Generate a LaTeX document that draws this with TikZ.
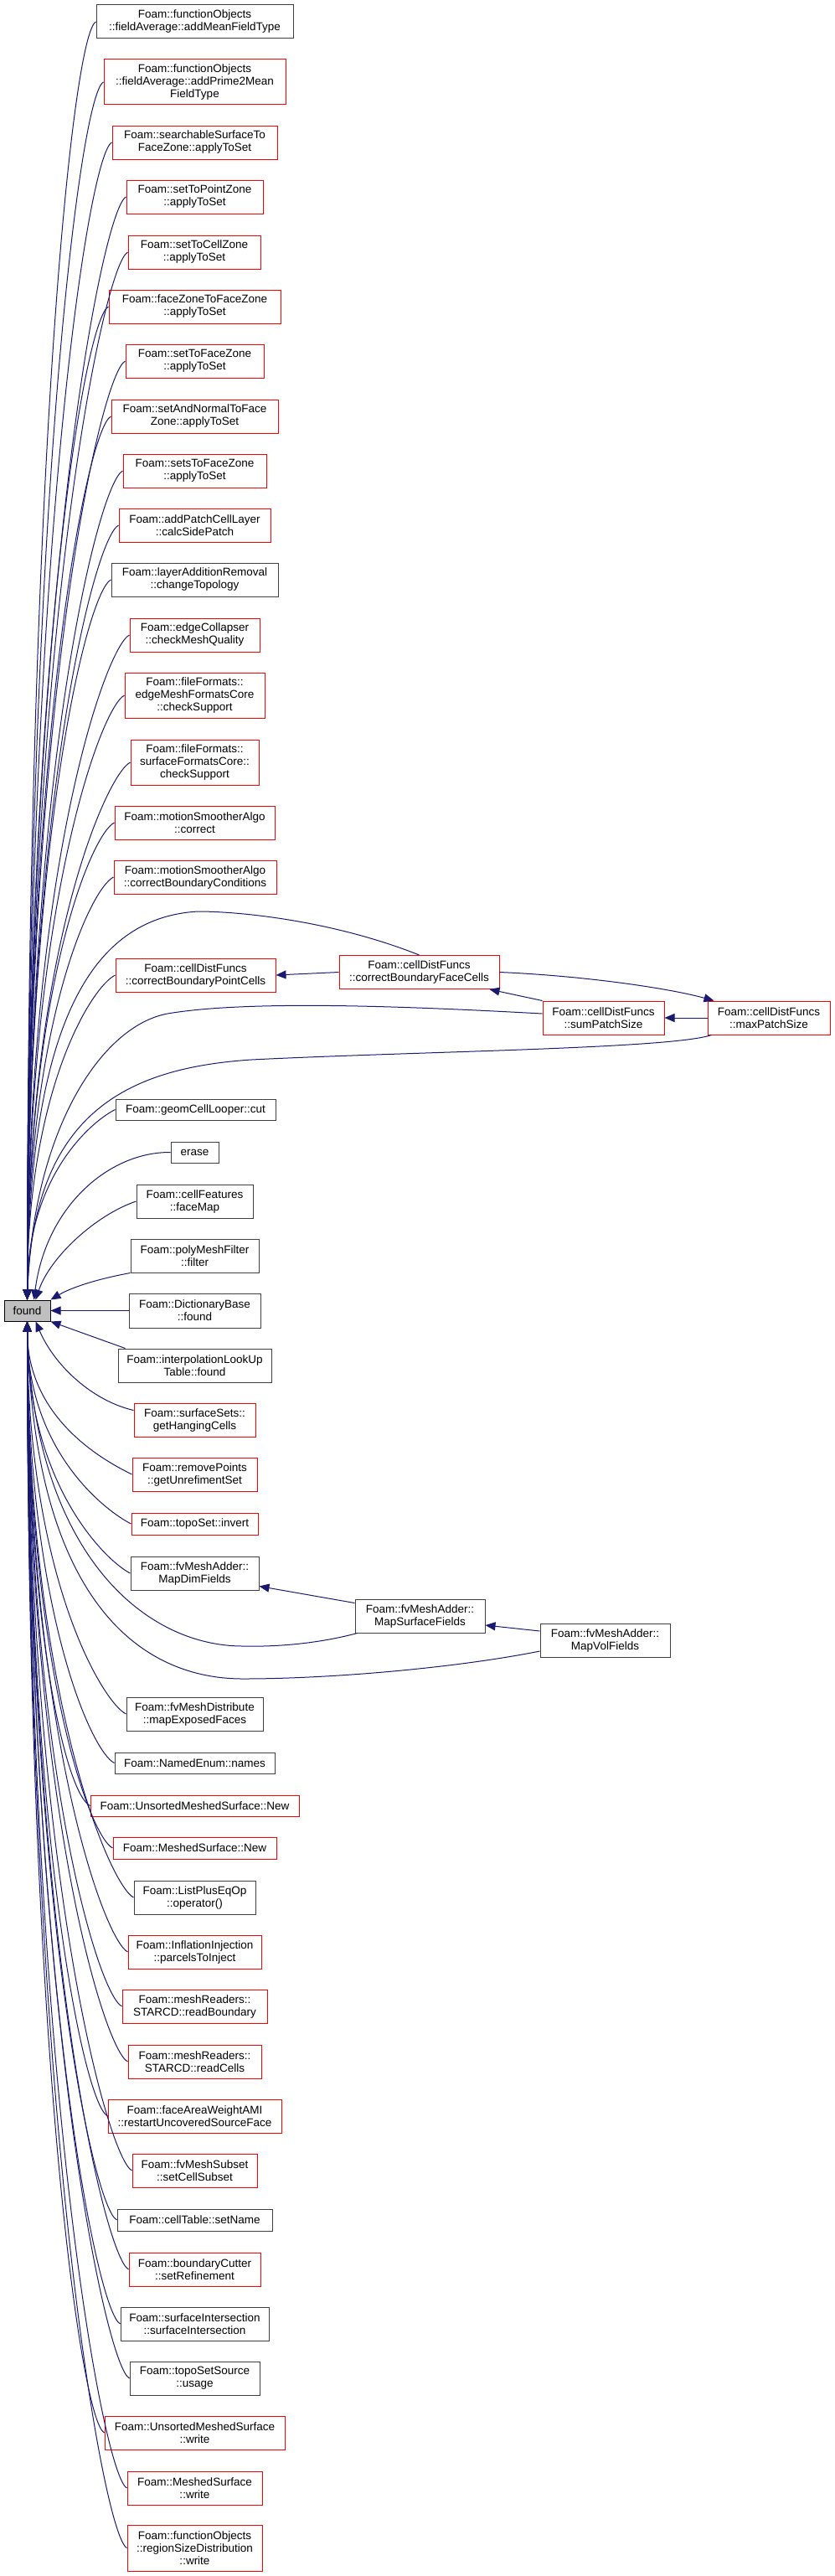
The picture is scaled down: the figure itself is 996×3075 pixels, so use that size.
\documentclass[tikz,border=0pt]{standalone}
\usepackage{fontspec}
\setmainfont{Liberation Sans}
\usetikzlibrary{arrows.meta}

\definecolor{edgeblue}{HTML}{191970}
\definecolor{boxred}{HTML}{FF0000}
\definecolor{boxgray}{HTML}{404040}
\definecolor{foundgray}{HTML}{BFBFBF}

\begin{document}
\begin{tikzpicture}[
    x=1pt, y=1pt,
    func/.style={
        draw=boxgray, fill=white, line width=1pt, inner sep=0pt,
        align=center, minimum height=40pt,
        font=\fontsize{13.5}{15}\selectfont
    },
    funcred/.style={func, draw=boxred},
    current/.style={func, draw=black, fill=foundgray},
    caller/.style={draw=edgeblue, line width=1pt, -{Triangle[length=12pt, width=10pt]}}
]

\useasboundingbox (0,0) rectangle (996,-3075);

% The called function
\node[current, minimum width=55pt, minimum height=25pt] (found) at (32.5,-1564.5) {found};

% Callers above - left column
\node[func, minimum width=235pt] (mean) at (232.5,-26) {Foam::functionObjects\\::fieldAverage::addMeanFieldType};
\node[funcred, minimum width=217pt, minimum height=54pt] (prime) at (232.5,-98) {Foam::functionObjects\\::fieldAverage::addPrime2Mean\\FieldType};
\node[funcred, minimum width=197pt] (searchable) at (232.5,-170) {Foam::searchableSurfaceTo\\FaceZone::applyToSet};
\node[funcred, minimum width=163pt] (pointzone) at (232.5,-235) {Foam::setToPointZone\\::applyToSet};
\node[funcred, minimum width=158pt] (cellzone) at (232,-301) {Foam::setToCellZone\\::applyToSet};
\node[funcred, minimum width=205pt] (facezone) at (232.5,-366) {Foam::faceZoneToFaceZone\\::applyToSet};
\node[funcred, minimum width=165pt] (setfacezone) at (232.5,-431) {Foam::setToFaceZone\\::applyToSet};
\node[funcred, minimum width=199pt] (normal) at (232.5,-497) {Foam::setAndNormalToFace\\Zone::applyToSet};
\node[funcred, minimum width=171pt] (setsface) at (232.5,-562) {Foam::setsToFaceZone\\::applyToSet};
\node[funcred, minimum width=181pt] (sidepatch) at (232.5,-627) {Foam::addPatchCellLayer\\::calcSidePatch};
\node[func, minimum width=199pt] (topology) at (232.5,-692) {Foam::layerAdditionRemoval\\::changeTopology};
\node[funcred, minimum width=155pt] (quality) at (232.5,-758) {Foam::edgeCollapser\\::checkMeshQuality};
\node[funcred, minimum width=167pt, minimum height=54pt] (edgesupport) at (232.5,-830) {Foam::fileFormats::\\edgeMeshFormatsCore\\::checkSupport};
\node[funcred, minimum width=153pt, minimum height=54pt] (surfsupport) at (232.5,-910) {Foam::fileFormats::\\surfaceFormatsCore::\\checkSupport};
\node[funcred, minimum width=191pt] (correct) at (232.5,-982) {Foam::motionSmootherAlgo\\::correct};
\node[funcred, minimum width=194pt] (correctbc) at (233,-1047) {Foam::motionSmootherAlgo\\::correctBoundaryConditions};
\node[funcred, minimum width=191pt] (pointcells) at (233.5,-1164) {Foam::cellDistFuncs\\::correctBoundaryPointCells};
\node[func, minimum width=191pt, minimum height=25pt] (cut) at (233.5,-1324.5) {Foam::geomCellLooper::cut};
\node[func, minimum width=57pt, minimum height=25pt] (erase) at (232.5,-1375.5) {erase};
\node[func, minimum width=139pt] (facemap) at (232.5,-1434) {Foam::cellFeatures\\::faceMap};
\node[func, minimum width=153pt] (filter) at (232.5,-1499) {Foam::polyMeshFilter\\::filter};

% cellDistFuncs group
\node[funcred, minimum width=191pt] (facecells) at (500.5,-1160.5) {Foam::cellDistFuncs\\::correctBoundaryFaceCells};
\node[funcred, minimum width=145pt] (sumpatch) at (720.5,-1215) {Foam::cellDistFuncs\\::sumPatchSize};
\node[funcred, minimum width=146pt] (maxpatch) at (918,-1215) {Foam::cellDistFuncs\\::maxPatchSize};

% Callers beside and below - left column
\node[func, minimum width=157pt, minimum height=41pt] (dictfound) at (232.5,-1564.5) {Foam::DictionaryBase\\::found};
\node[func, minimum width=183pt] (lookup) at (232.5,-1630) {Foam::interpolationLookUp\\Table::found};
\node[funcred, minimum width=145pt] (hanging) at (232.5,-1695) {Foam::surfaceSets::\\getHangingCells};
\node[funcred, minimum width=149pt] (unrefine) at (232.5,-1760) {Foam::removePoints\\::getUnrefimentSet};
\node[funcred, minimum width=151pt, minimum height=26pt] (invert) at (232.5,-1819) {Foam::topoSet::invert};
\node[func, minimum width=153pt] (mapdim) at (232.5,-1878) {Foam::fvMeshAdder::\\MapDimFields};

% fvMeshAdder group
\node[func, minimum width=155pt] (mapsurf) at (501.5,-1929) {Foam::fvMeshAdder::\\MapSurfaceFields};
\node[func, minimum width=155pt] (mapvol) at (722.5,-1958) {Foam::fvMeshAdder::\\MapVolFields};

\node[func, minimum width=163pt] (exposed) at (232.5,-2046) {Foam::fvMeshDistribute\\::mapExposedFaces};
\node[func, minimum width=191pt, minimum height=25pt] (names) at (232.5,-2104.5) {Foam::NamedEnum::names};
\node[funcred, minimum width=249pt, minimum height=25pt] (unsnew) at (232.5,-2155.5) {Foam::UnsortedMeshedSurface::New};
\node[funcred, minimum width=195pt, minimum height=26pt] (msnew) at (232.5,-2206) {Foam::MeshedSurface::New};
\node[func, minimum width=145pt] (pluseq) at (232.5,-2265) {Foam::ListPlusEqOp\\::operator()};
\node[funcred, minimum width=159pt] (inject) at (232.5,-2330) {Foam::InflationInjection\\::parcelsToInject};
\node[funcred, minimum width=173pt] (readbnd) at (232.5,-2395) {Foam::meshReaders::\\STARCD::readBoundary};
\node[funcred, minimum width=159pt] (readcells) at (232.5,-2461) {Foam::meshReaders::\\STARCD::readCells};
\node[funcred, minimum width=207pt] (restart) at (232.5,-2526) {Foam::faceAreaWeightAMI\\::restartUncoveredSourceFace};
\node[funcred, minimum width=149pt] (cellsubset) at (232.5,-2591) {Foam::fvMeshSubset\\::setCellSubset};
\node[func, minimum width=185pt, minimum height=26pt] (setname) at (232.5,-2650) {Foam::cellTable::setName};
\node[funcred, minimum width=157pt] (refine) at (232.5,-2709) {Foam::boundaryCutter\\::setRefinement};
\node[func, minimum width=177pt] (intersect) at (232.5,-2774) {Foam::surfaceIntersection\\::surfaceIntersection};
\node[func, minimum width=155pt] (usage) at (232.5,-2839) {Foam::topoSetSource\\::usage};
\node[funcred, minimum width=215pt] (unswrite) at (232.5,-2904) {Foam::UnsortedMeshedSurface\\::write};
\node[funcred, minimum width=161pt] (mswrite) at (232.5,-2970) {Foam::MeshedSurface\\::write};
\node[funcred, minimum width=161pt, minimum height=55pt] (regionsize) at (232.5,-3041.5) {Foam::functionObjects\\::regionSizeDistribution\\::write};

% Calls from above
\draw[caller] (mean.west) .. controls +(-28,-14) and +(0,992) .. (found.north);
\draw[caller] (prime.west) .. controls +(-28,-14) and +(0,945) .. (found.north);
\draw[caller] (searchable.west) .. controls +(-28,-14) and +(0,898) .. (found.north);
\draw[caller] (pointzone.west) .. controls +(-28,-14) and +(0,856) .. (found.north);
\draw[caller] (cellzone.west) .. controls +(-28,-14) and +(0,813) .. (found.north);
\draw[caller] (facezone.west) .. controls +(-28,-14) and +(0,771) .. (found.north);
\draw[caller] (setfacezone.west) .. controls +(-28,-14) and +(0,729) .. (found.north);
\draw[caller] (normal.west) .. controls +(-28,-14) and +(0,686) .. (found.north);
\draw[caller] (setsface.west) .. controls +(-28,-14) and +(0,644) .. (found.north);
\draw[caller] (sidepatch.west) .. controls +(-28,-14) and +(0,601) .. (found.north);
\draw[caller] (topology.west) .. controls +(-28,-14) and +(0,559) .. (found.north);
\draw[caller] (quality.west) .. controls +(-28,-14) and +(0,516) .. (found.north);
\draw[caller] (edgesupport.west) .. controls +(-28,-14) and +(0,469) .. (found.north);
\draw[caller] (surfsupport.west) .. controls +(-28,-14) and +(0,417) .. (found.north);
\draw[caller] (correct.west) .. controls +(-28,-14) and +(0,371) .. (found.north);
\draw[caller] (correctbc.west) .. controls +(-28,-14) and +(0,328) .. (found.north);
\draw[caller] (pointcells.west) .. controls +(-28,-14) and +(0,252) .. (found.north);
\draw[caller] (cut.west) .. controls +(-28,-14) and +(0,148) .. (found.north);
\draw[caller] (erase.west) .. controls (130,-1375) and (55,-1440) .. ([xshift=8pt]found.north);
\draw[caller] (facemap.west) .. controls (115,-1450) and (60,-1500) .. ([xshift=10pt]found.north);
\draw[caller] (filter.south west) .. controls (115,-1527) and (85,-1537) .. (found.north east);

% cellDistFuncs calls
\draw[caller] (facecells.north) .. controls (400,-1100) and (290,-1088) .. (236,-1088)
    .. controls (120,-1095) and (35,-1200) .. (found.north);
\draw[caller] ([yshift=5pt]sumpatch.west) .. controls (500,-1202) and (300,-1193) .. (200,-1210)
    .. controls (120,-1225) and (40,-1350) .. (found.north);
\draw[caller] ([xshift=5pt]maxpatch.south west) .. controls (800,-1252) and (500,-1255) .. (300,-1265)
    .. controls (150,-1275) and (40,-1330) .. (found.north);
\draw[caller] (facecells.west) -- (pointcells.east);
\draw[caller] (sumpatch.north west) -- ([xshift=-12pt]facecells.south east);
\draw[caller] (facecells.east) .. controls (700,-1165) and (800,-1180) .. ([xshift=8pt]maxpatch.north west);
\draw[caller] (maxpatch.west) -- (sumpatch.east);

% Calls from beside and below
\draw[caller] (dictfound.west) -- (found.east);
\draw[caller] ([xshift=9pt]lookup.north west) -- (found.south east);
\draw[caller] ([yshift=-9pt]hanging.north west) .. controls (110,-1672) and (65,-1630) .. ([xshift=10pt]found.south);
\draw[caller] (unrefine.west) .. controls +(-28,14) and +(0,-119) .. (found.south);
\draw[caller] (invert.west) .. controls +(-28,14) and +(0,-157) .. (found.south);
\draw[caller] (mapdim.west) .. controls +(-28,14) and +(0,-196) .. (found.south);
\draw[caller] (exposed.west) .. controls +(-28,14) and +(0,-305) .. (found.south);
\draw[caller] (names.west) .. controls +(-28,14) and +(0,-343) .. (found.south);
\draw[caller] (unsnew.west) .. controls +(-28,14) and +(0,-376) .. (found.south);
\draw[caller] (msnew.west) .. controls +(-28,14) and +(0,-409) .. (found.south);
\draw[caller] (pluseq.west) .. controls +(-28,14) and +(0,-447) .. (found.south);
\draw[caller] (inject.west) .. controls +(-28,14) and +(0,-489) .. (found.south);
\draw[caller] (readbnd.west) .. controls +(-28,14) and +(0,-532) .. (found.south);
\draw[caller] (readcells.west) .. controls +(-28,14) and +(0,-575) .. (found.south);
\draw[caller] (restart.west) .. controls +(-28,14) and +(0,-617) .. (found.south);
\draw[caller] (cellsubset.west) .. controls +(-28,14) and +(0,-659) .. (found.south);
\draw[caller] (setname.west) .. controls +(-28,14) and +(0,-697) .. (found.south);
\draw[caller] (refine.west) .. controls +(-28,14) and +(0,-736) .. (found.south);
\draw[caller] (intersect.west) .. controls +(-28,14) and +(0,-778) .. (found.south);
\draw[caller] (usage.west) .. controls +(-28,14) and +(0,-820) .. (found.south);
\draw[caller] (unswrite.west) .. controls +(-28,14) and +(0,-863) .. (found.south);
\draw[caller] (mswrite.west) .. controls +(-28,14) and +(0,-905) .. (found.south);
\draw[caller] (regionsize.west) .. controls +(-28,14) and +(0,-952) .. (found.south);

% fvMeshAdder calls
\draw[caller] ([yshift=-5pt]mapsurf.north west) -- ([yshift=5pt]mapdim.south east);
\draw[caller] ([yshift=11pt]mapvol.west) -- ([yshift=-11pt]mapsurf.east);
\draw[caller] ([xshift=3pt]mapsurf.south west) .. controls (380,-1962) and (330,-1966) .. (290,-1965)
    .. controls (170,-1965) and (40,-1850) .. (found.south);
\draw[caller] ([yshift=-13pt]mapvol.west) .. controls (550,-1990) and (400,-2004) .. (290,-2004)
    .. controls (160,-2004) and (40,-1900) .. (found.south);

\end{tikzpicture}
\end{document}
